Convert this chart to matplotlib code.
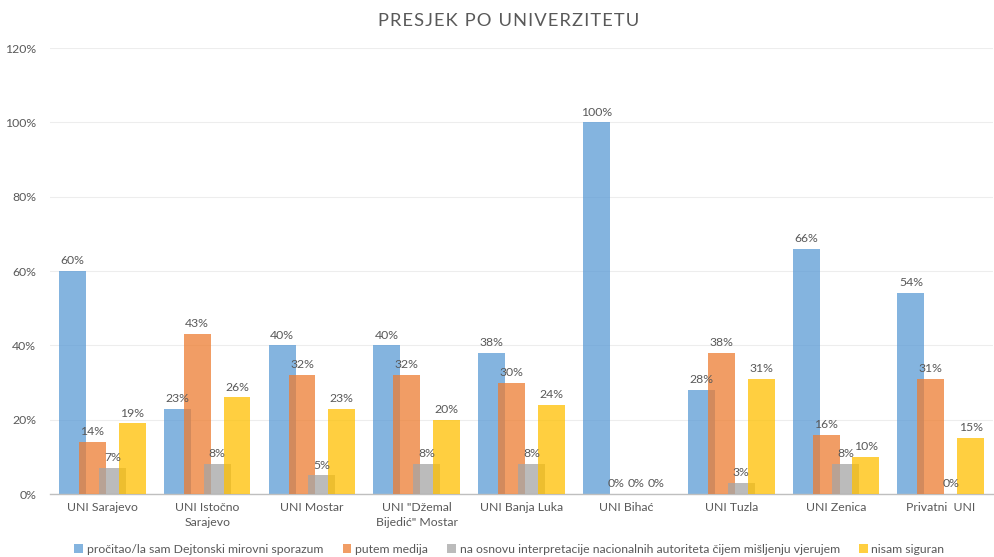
import matplotlib
matplotlib.use("Agg")
import matplotlib.pyplot as plt
import numpy as np
from matplotlib.ticker import FuncFormatter

categories = ["UNI Sarajevo", "UNI Istočno\nSarajevo", "UNI Mostar", "UNI \"Džemal\nBijedić\" Mostar",
              "UNI Banja Luka", "UNI Bihać", "UNI Tuzla", "UNI Zenica", "Privatni  UNI"]
series_names = ["pročitao/la sam Dejtonski mirovni sporazum", "putem medija",
                "na osnovu interpretacije nacionalnih autoriteta čijem mišljenju vjerujem", "nisam siguran"]
procitao = [60, 23, 40, 40, 38, 100, 28, 66, 54]
mediji = [14, 43, 32, 32, 30, 0, 38, 16, 31]
autoriteti = [7, 8, 5, 8, 8, 0, 3, 8, 0]
nisam = [19, 26, 23, 20, 24, 0, 31, 10, 15]
yticks = [0, 20, 40, 60, 80, 100, 120]

colors = ["#5B9BD5", "#ED7D31", "#A5A5A5", "#FFC000"]
plt.rcParams['font.family'] = ['Lato', 'DejaVu Sans']
plt.rcParams['font.stretch'] = 'normal'

fig = plt.figure(figsize=(9.95, 5.57), dpi=100)
ax = fig.add_axes([0.0502, 0.1131, 0.948, 0.8007])

x = np.arange(len(categories))
bw = 0.257
step = 0.19
offsets = (np.arange(4) - 1.5) * step
all_series = [procitao, mediji, autoriteti, nisam]
handles = []
fs = 8.8
for i, (vals, col, name) in enumerate(zip(all_series, colors, series_names)):
    b = ax.bar(x + offsets[i], vals, width=bw, color=col, alpha=0.75, label=name, zorder=2 + i)
    handles.append(b)
    for xi, v in zip(x + offsets[i], vals):
        ax.text(xi, v + 1.3, f"{v}%", ha="center", va="bottom", fontsize=fs, color="#595959", zorder=10)

ax.set_xlim(-0.5, len(categories) - 0.5)
ax.set_ylim(0, 120)
ax.set_yticks(yticks)
ax.yaxis.set_major_formatter(FuncFormatter(lambda v, p: f"{int(v)}%"))
ax.set_xticks(x)
ax.set_xticklabels(categories, fontsize=fs, color="#595959", linespacing=1.4)
ax.tick_params(axis='y', labelsize=fs, labelcolor="#595959", length=0, pad=10)
ax.tick_params(axis='x', length=0, pad=6)
ax.grid(axis='y', color="#EDEDED", linewidth=0.8, zorder=0)
ax.set_axisbelow(True)
for s in ["top", "right", "left"]:
    ax.spines[s].set_visible(False)
ax.spines["bottom"].set_color("#BFBFBF")
ax.spines["bottom"].set_linewidth(1.0)

fig.text(0.511, 0.963, "\u200a".join("PRESJEK PO UNIVERZITETU"),
         ha="center", va="center", fontsize=13.2, color="#595959")

leg = fig.legend(handles=handles, loc="center", bbox_to_anchor=(0.512, 0.014), ncol=4, frameon=False,
                 fontsize=fs, handlelength=0.7, handleheight=0.7, handletextpad=0.3, columnspacing=1.6,
                 labelcolor="#595959")

fig.savefig("out.png", dpi=100)
